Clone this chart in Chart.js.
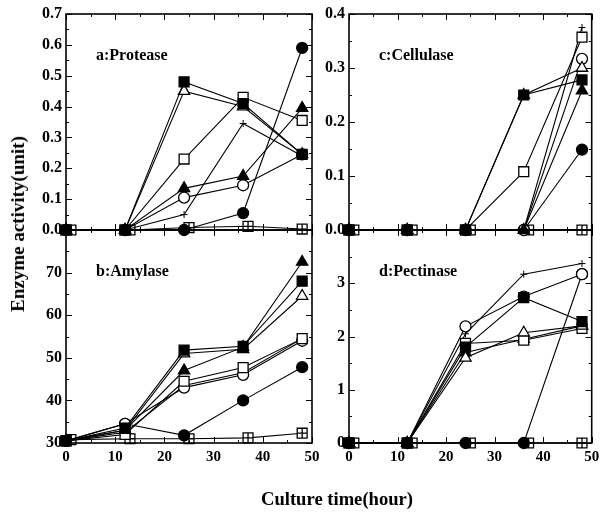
<!DOCTYPE html>
<html>
<head>
<meta charset="utf-8">
<script src="https://cdn.jsdelivr.net/npm/chart.js@4.4.0/dist/chart.umd.min.js"></script>
<style>
  body { margin: 0; background: #fff; }
  #wrap { position: relative; width: 600px; height: 513px; overflow: hidden; }
  #wrap canvas { position: absolute; left: 0; top: 0; }
  .title { position: absolute; font-family: 'Liberation Serif', 'Times New Roman', serif; font-weight: bold; color: #000; white-space: nowrap; transform: translate(-50%, -50%); }
</style>
</head>
<body>
<div id="wrap">
  <canvas id="panel-a" width="600" height="513"></canvas>
  <canvas id="panel-c" width="600" height="513"></canvas>
  <canvas id="panel-b" width="600" height="513"></canvas>
  <canvas id="panel-d" width="600" height="513"></canvas>
  <div class="title" style="left:18px; top:224px; font-size:19px; transform: translate(-50%, -50%) rotate(-90deg);">Enzyme activity(unit)</div>
  <div class="title" style="left:337px; top:499px; font-size:18.6px;">Culture time(hour)</div>
</div>
<script>
// sampling times (hours); the control series is plotted a little to the right
const hours = [0, 12, 24, 36, 48];
const ctrlHours = [1, 13, 25, 37, 48];

// row order in every panel: ■ △ □ ▲ ○ + ● ⊞(control)
const protease = [
    [0, 0, 0.48, 0.41, 0.245],
    [0, 0, 0.45, 0.40, 0.245],
    [0, 0, 0.23, 0.43, 0.355],
    [0, 0, 0.135, 0.175, 0.395],
    [0, 0, 0.105, 0.145, 0.245],
    [0, 0, 0.05, 0.345, 0.24],
    [0, 0, 0, 0.055, 0.59],
    [0, 0, 0.008, 0.012, 0.003]
];
const amylase = [
    [30.5, 33.5, 51.8, 52.7, 68],
    [30.5, 33, 51, 52, 64.5],
    [30.5, 32, 44.5, 47.7, 54.5],
    [30.5, 33, 47, 52.5, 72.5],
    [30.5, 34.5, 43, 46, 54],
    [30.5, 32.5, 43.5, 46.5, 54.5],
    [30.5, 34.5, 31.8, 40, 47.8],
    [30.8, 31, 31, 31.2, 32.3]
];
const cellulase = [
    [0, 0, 0, 0.25, 0.278],
    [0, 0, 0, 0.25, 0.30],
    [0, 0, 0, 0.108, 0.357],
    [0, 0, 0, 0, 0.258],
    [0, 0, 0, 0, 0.317],
    [0, 0, 0, 0, 0.375],
    [0, 0, 0, 0, 0.149],
    [0, 0, 0, 0, 0]
];
const pectinase = [
    [0, 0, 1.8, 2.73, 2.28],
    [0, 0, 1.6, 2.07, 2.2],
    [0, 0, 1.87, 1.93, 2.15],
    [0, 0, 1.7, 1.95, 2.2],
    [0, 0, 2.19, 2.75, 3.17],
    [0, 0, 2.05, 3.17, 3.37],
    [0, 0, 0, 0, 3.17],
    [0, 0, 0, 0, 0]
];

// y axis ranges: min, max, step
const proteaseRange = [0, 0.7, 0.1];
const amylaseRange = [30, 80, 10];
const cellulaseRange = [0, 0.4, 0.1];
const pectinaseRange = [0, 4, 1];

const markers = [
    { style: 'rect', filled: true, r: 7 },
    { style: 'triangle', filled: false, r: 6.5 },
    { style: 'rect', filled: false, r: 7 },
    { style: 'triangle', filled: true, r: 6.5 },
    { style: 'circle', filled: false, r: 5.5 },
    { style: 'cross', filled: false, r: 3.5 },
    { style: 'circle', filled: true, r: 5.5 },
    { style: 'rect', filled: false, r: 7, plus: true }
];

Chart.defaults.font.family = "'Liberation Serif', 'Times New Roman', serif";
Chart.defaults.font.weight = 'bold';
Chart.defaults.font.size = 15;
Chart.defaults.color = '#000';

const AXIS_W = 45;
const AXIS_H = 25;

function buildDatasets(rows) {
    const sets = [];
    rows.forEach((vals, i) => {
        const m = markers[i];
        const xs = m.plus ? ctrlHours : hours;
        const pts = xs.map((h, j) => ({ x: h, y: vals[j] }));
        if (m.plus) {
            // plus drawn on top of the open square -> ⊞
            sets.push({
                data: pts, showLine: false, pointStyle: 'cross',
                pointRadius: m.r * 0.7, pointBorderColor: '#000', pointBorderWidth: 1.3, clip: false
            });
        }
        sets.push({
            data: pts,
            borderColor: '#000',
            borderWidth: 1.1,
            pointStyle: m.style,
            pointRadius: m.r,
            pointBackgroundColor: m.filled ? '#000' : '#fff',
            pointBorderColor: '#000',
            pointBorderWidth: m.style === 'cross' ? 1 : 1.3,
            clip: false
        });
    });
    return sets;
}

// frame, inward ticks (major + minor) and the panel caption
const panelPlugin = {
    id: 'panel',
    afterDraw(chart, args, opts) {
        const { ctx, chartArea: a } = chart;
        const x = chart.scales.x, y = chart.scales.y;
        const seg = (x1, y1, x2, y2) => { ctx.beginPath(); ctx.moveTo(x1, y1); ctx.lineTo(x2, y2); ctx.stroke(); };
        ctx.save();
        ctx.strokeStyle = '#000';
        ctx.lineWidth = 1;
        const ny = Math.round((y.max - y.min) / opts.yMinor);
        for (let i = 0; i <= ny; i++) {
            const py = Math.round(y.getPixelForValue(y.min + i * opts.yMinor)) + 0.5;
            const len = i % 2 === 0 ? 6 : 3;
            seg(a.left, py, a.left + len, py);
            seg(a.right, py, a.right - len, py);
        }
        const nx = Math.round((x.max - x.min) / opts.xMinor);
        for (let i = 0; i <= nx; i++) {
            const px = Math.round(x.getPixelForValue(x.min + i * opts.xMinor)) + 0.5;
            const len = i % 2 === 0 ? 6 : 3;
            seg(px, a.bottom, px, a.bottom - len);
            seg(px, a.top, px, a.top + len);
        }
        ctx.lineWidth = 1.6;
        ctx.strokeRect(a.left, a.top, a.right - a.left, a.bottom - a.top);
        ctx.fillStyle = '#000';
        ctx.font = "bold 16px 'Liberation Serif', 'Times New Roman', serif";
        ctx.textBaseline = 'middle';
        ctx.fillText(opts.label, a.left + 30, a.top + 42);
        ctx.restore();
    }
};

function makePanel(id, area, rows, range, decimals, showX, label) {
    const [yMin, yMax, yStep] = range;
    new Chart(document.getElementById(id), {
        type: 'line',
        data: { datasets: buildDatasets(rows) },
        options: {
            responsive: false,
            animation: false,
            events: [],
            layout: {
                padding: { left: area[0] - AXIS_W, top: area[1], right: 600 - area[2], bottom: 513 - area[3] - AXIS_H }
            },
            plugins: {
                legend: { display: false },
                tooltip: { enabled: false },
                panel: { label: label, yMinor: yStep / 2, xMinor: 5 }
            },
            scales: {
                x: {
                    type: 'linear', min: 0, max: 50,
                    grid: { display: false, drawTicks: false },
                    border: { display: false },
                    ticks: { display: showX, stepSize: 10, maxRotation: 0, autoSkip: false, padding: 5 },
                    afterFit(s) { s.height = AXIS_H; s.paddingLeft = 0; s.paddingRight = 0; }
                },
                y: {
                    type: 'linear', min: yMin, max: yMax,
                    grid: { display: false, drawTicks: false },
                    border: { display: false },
                    ticks: {
                        stepSize: yStep, padding: 4, autoSkip: false, font: { size: 16 },
                        // the top value is left unlabeled in the lower panels
                        callback: (v) => (showX && Math.abs(v - yMax) < 1e-9) ? '' : v.toFixed(decimals)
                    },
                    afterFit(s) { s.width = AXIS_W; s.paddingTop = 0; s.paddingBottom = 0; }
                }
            }
        },
        plugins: [panelPlugin]
    });
}

makePanel('panel-a', [66, 14, 312, 230], protease, proteaseRange, 1, false, 'a:Protease');
makePanel('panel-c', [349, 14, 597, 230], cellulase, cellulaseRange, 1, false, 'c:Cellulase');
makePanel('panel-b', [66, 230, 312, 443], amylase, amylaseRange, 0, true, 'b:Amylase');
makePanel('panel-d', [349, 230, 597, 443], pectinase, pectinaseRange, 0, true, 'd:Pectinase');
</script>
</body>
</html>
